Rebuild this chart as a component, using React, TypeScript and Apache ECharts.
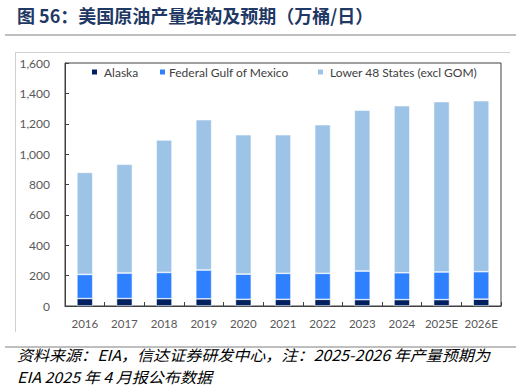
import React, { useEffect, useRef } from "react";
import * as echarts from "echarts";

const categories = ["2016", "2017", "2018", "2019", "2020", "2021", "2022", "2023", "2024", "2025E", "2026E"];
const alaska = [49, 49, 48, 47, 44, 44, 44, 42, 42, 42, 45];
const gulf = [159, 168, 173, 190, 166, 171, 171, 188, 177, 182, 181];
const lower48 = [672, 716, 872, 990, 918, 913, 979, 1060, 1100, 1122, 1126];
const seriesNames = ["Alaska", "Federal Gulf of Mexico", "Lower 48 States (excl GOM)"];
const colors = ["#002060", "#2E80FF", "#9DC3E6"];
const titleText = "图 56：美国原油产量结构及预期（万桶/日）";
const footLine1 = "资料来源：EIA，信达证券研发中心，注：2025-2026 年产量预期为";
const footLine2 = "EIA 2025 年 4 月报公布数据";

const FONT = "Lato, 'Noto Sans', sans-serif";
const CJK = "'Noto Sans CJK SC', sans-serif";

export default function App() {
  const ref = useRef<HTMLDivElement>(null);
  useEffect(() => {
    if (!ref.current) return;
    const chart = echarts.init(ref.current, null, { renderer: "svg" });
    const dataSets = [alaska, gulf, lower48];
    const legendLefts = [90, 158, 316];
    const textPads = [1, -2, 1];
    chart.setOption({
      animation: false,
      backgroundColor: "#ffffff",
      grid: {
        left: 65,
        right: 25,
        top: 63,
        bottom: 86,
        show: true,
        borderColor: "#404040",
        borderWidth: 1,
        containLabel: false,
      },
      legend: seriesNames.map((n, i) => ({
        data: [n],
        left: legendLefts[i],
        top: 66,
        padding: 0,
        itemWidth: 7,
        itemHeight: 7,
        itemGap: 0,
        icon: "rect",
        textStyle: { fontFamily: FONT, fontSize: 12, color: "#404040", padding: [0, 0, 0, textPads[i]] },
      })),
      xAxis: {
        type: "category",
        data: categories,
        axisLine: { show: true, lineStyle: { color: "#404040", width: 1 } },
        axisTick: { show: true, inside: true, length: 4, alignWithLabel: false, lineStyle: { color: "#404040" } },
        axisLabel: { fontFamily: FONT, fontSize: 11.5, color: "#595959", margin: 11, interval: 0 },
      },
      yAxis: {
        type: "value",
        min: 0,
        max: 1600,
        interval: 200,
        axisLine: { show: true, lineStyle: { color: "#404040", width: 1 } },
        axisTick: { show: true, inside: true, length: 4, lineStyle: { color: "#404040" } },
        splitLine: { show: false },
        axisLabel: {
          fontFamily: FONT,
          fontSize: 12,
          color: "#595959",
          margin: 15,
          formatter: (v: number) => v.toLocaleString("en-US"),
        },
      },
      series: dataSets.map((d, i) => ({
        name: seriesNames[i],
        type: "bar",
        stack: "total",
        data: d,
        barWidth: "40%",
        itemStyle: { color: colors[i], borderColor: "#ffffff", borderWidth: 0.6 },
      })),
      graphic: [
        {
          type: "text",
          x: 17,
          y: 15,
          style: {
            text: titleText,
            fontFamily: CJK,
            fontSize: 18,
            fontWeight: "bold",
            fill: "#1F3864",
            textVerticalAlign: "middle",
          },
        },
        { type: "line", shape: { x1: 5, y1: 35, x2: 516, y2: 35 }, style: { stroke: "#7F7F7F", lineWidth: 1 } },
        { type: "line", shape: { x1: 15.5, y1: 52, x2: 15.5, y2: 332 }, style: { stroke: "#D0D0D0", lineWidth: 1 } },
        { type: "line", shape: { x1: 15, y1: 52.5, x2: 510, y2: 52.5 }, style: { stroke: "#D0D0D0", lineWidth: 1 } },
        { type: "line", shape: { x1: 5, y1: 347, x2: 516, y2: 347 }, style: { stroke: "#7F7F7F", lineWidth: 1 } },
        {
          type: "text",
          x: 17,
          y: 354,
          scaleX: 1.07,
          style: {
            text: footLine1,
            fontFamily: CJK,
            fontSize: 15,
            fontStyle: "italic",
            fill: "#000000",
            textVerticalAlign: "middle",
          },
        },
        {
          type: "text",
          x: 17,
          y: 376,
          scaleX: 1.07,
          style: {
            text: footLine2,
            fontFamily: CJK,
            fontSize: 15,
            fontStyle: "italic",
            fill: "#000000",
            textVerticalAlign: "middle",
          },
        },
      ],
    });
    return () => chart.dispose();
  }, []);
  return <div ref={ref} style={{ position: "absolute", left: 0, top: 0, width: 526, height: 392 }} />;
}
